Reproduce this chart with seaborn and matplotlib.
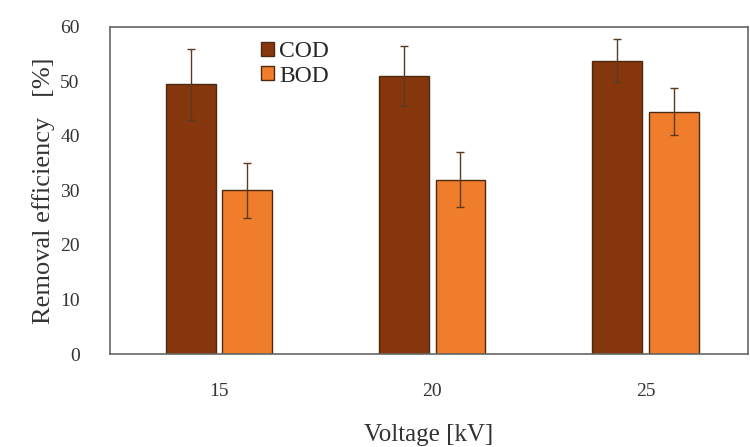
import matplotlib
matplotlib.use("Agg")
import matplotlib.pyplot as plt
import seaborn as sns
import pandas as pd

# Data
voltages = ["15", "20", "25"]
cod_values = [49.5, 51.0, 53.8]
bod_values = [30.0, 32.0, 44.4]
cod_errors = [6.5, 5.5, 4.0]
bod_errors = [5.0, 5.0, 4.3]
series = ["COD", "BOD"]
colors = {"COD": "#86360c", "BOD": "#f07d2c"}

df = pd.DataFrame({
    "Voltage": voltages * 2,
    "Value": cod_values + bod_values,
    "Series": ["COD"] * 3 + ["BOD"] * 3,
})

sns.set_style("white")
plt.rcParams['font.family'] = ['Liberation Serif', 'DejaVu Serif']

fig = plt.figure(figsize=(7.5, 4.47), dpi=100)
ax = fig.add_axes([0.147, 0.208, 0.85, 0.732])

sns.barplot(data=df, x="Voltage", y="Value", hue="Series", hue_order=series,
            palette=colors, saturation=1, width=0.53, gap=0.12,
            edgecolor="#4a2a10", linewidth=1.0, errorbar=None, ax=ax)

# error bars on top of each bar
errs = {"COD": cod_errors, "BOD": bod_errors}
for cont, name in zip(ax.containers, series):
    xs = [p.get_x() + p.get_width() / 2 for p in cont]
    ys = [p.get_height() for p in cont]
    ax.errorbar(xs, ys, yerr=errs[name], fmt="none", ecolor="#5a3a20",
                elinewidth=1.0, capsize=3, capthick=1.0)

ax.set_ylim(0, 60)
ax.set_yticks(range(0, 61, 10))
ax.set_xlim(-0.51, 2.48)
ax.set_xlabel("Voltage [kV]", fontsize=18, color="#333333", labelpad=17)
ax.set_ylabel("Removal efficiency   [%]", fontsize=19, color="#333333",
              labelpad=4)
ax.tick_params(axis="both", labelsize=14, colors="#333333", length=0)
ax.tick_params(axis="y", pad=22)
ax.tick_params(axis="x", pad=21)
for s in ax.spines.values():
    s.set_color("#666666")
    s.set_linewidth(1.2)

leg = ax.legend(loc="upper left", bbox_to_anchor=(0.215, 1.0), frameon=False,
                fontsize=17, handlelength=0.55, handleheight=0.55,
                handletextpad=0.2, labelspacing=0.15, borderaxespad=0.2)

fig.savefig("out.png", dpi=100)
